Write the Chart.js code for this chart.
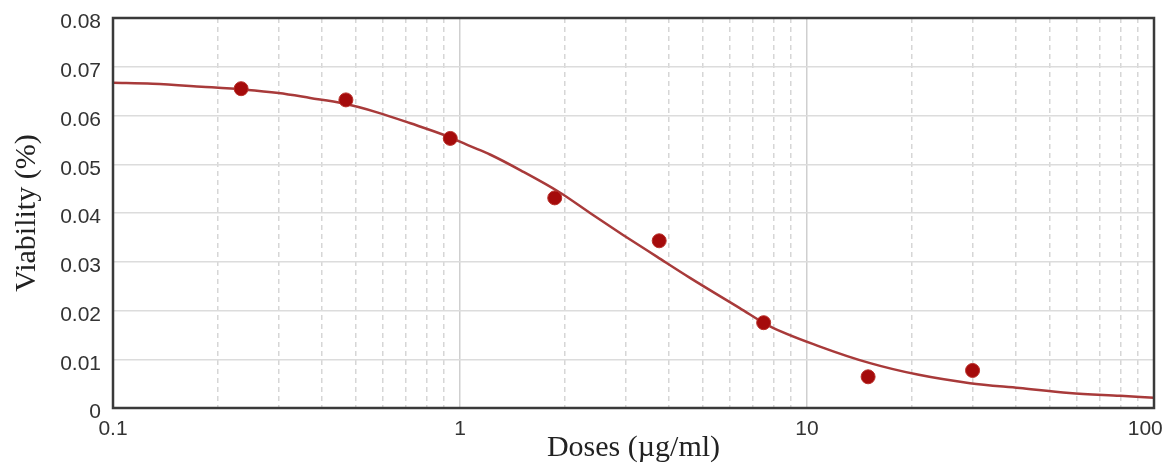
<!DOCTYPE html>
<html>
<head>
<meta charset="utf-8">
<script src="https://cdn.jsdelivr.net/npm/chart.js@4"></script>
<style>
    html, body { margin: 0; padding: 0; background: #fff; }
    #wrap { width: 1168px; height: 463px; }
</style>
</head>
<body>
<div id="wrap"><canvas id="dosis"></canvas></div>
<script>
// measured viability at each dose (µg/ml)
const doses = [0.234, 0.469, 0.9375, 1.875, 3.75, 7.5, 15, 30];
const viability = [0.0655, 0.0632, 0.0553, 0.0431, 0.0343, 0.0175, 0.0064, 0.0077];

// fitted dose-response curve, sampled along the dose axis
const fitDoses = [0.1, 0.13, 0.18, 0.24, 0.3, 0.37, 0.46, 0.58, 0.72, 0.9, 1.07, 1.22, 1.5, 1.94,
    2.37, 2.95, 3.7, 4.6, 6.4, 7.8, 10.9, 15.2, 21, 29.5, 41, 57, 80, 100];
const fitViability = [0.0667, 0.0665, 0.0659, 0.0653, 0.0646, 0.0636, 0.0625, 0.0606, 0.0584, 0.0560,
    0.0537, 0.0520, 0.0487, 0.0442, 0.0400, 0.0355, 0.0310, 0.0267, 0.0205, 0.0168, 0.0126, 0.0092,
    0.0068, 0.0051, 0.0041, 0.0031, 0.0025, 0.0021];

// log axis grid: decades get solid lines + labels, the rest dashed
const decades = [0.1, 1, 10, 100];
const minorSteps = [2, 3, 4, 5, 6, 7, 8, 9];
const yTicks = [0, 0.01, 0.02, 0.03, 0.04, 0.05, 0.06, 0.07, 0.08];

const xGrid = [];
decades.forEach(function (d, i) {
    xGrid.push(d);
    if (i < decades.length - 1) minorSteps.forEach(function (m) { xGrid.push(+(d * m).toPrecision(3)); });
});

const isDecade = (v) => decades.indexOf(v) !== -1;

const tickFont = { family: "'Liberation Sans', Arial, sans-serif", size: 21 };
const titleFont = { family: "'Liberation Serif', 'Times New Roman', serif", size: 30, lineHeight: 1 };

// dark box round the plot area
const frame = {
    id: "frame",
    afterDatasetsDraw(chart) {
        const a = chart.chartArea;
        const ctx = chart.ctx;
        ctx.save();
        ctx.strokeStyle = "#3a3a3a";
        ctx.lineWidth = 2.5;
        ctx.strokeRect(a.left, a.top, a.right - a.left, a.bottom - a.top);
        ctx.restore();
    },
};

new Chart(document.getElementById("dosis"), {
    type: "scatter",
    data: {
        datasets: [
            {
                label: "Datos",
                data: doses.map((d, i) => ({ x: d, y: viability[i] })),
                backgroundColor: "#a50b0b",
                borderColor: "#b8302a",
                borderWidth: 1,
                pointRadius: 7,
                order: 0,
            },
            {
                label: "Ajuste",
                type: "line",
                data: fitDoses.map((d, i) => ({ x: d, y: fitViability[i] })),
                borderColor: "#a83a3a",
                borderWidth: 2.5,
                pointRadius: 0,
                cubicInterpolationMode: "monotone",
                fill: false,
                order: 1,
            },
        ],
    },
    options: {
        responsive: true,
        maintainAspectRatio: false,
        animation: false,
        layout: { padding: { top: 18, right: 14, bottom: 0, left: 0 } },
        scales: {
            x: {
                type: "logarithmic",
                min: 0.1,
                max: 100,
                afterBuildTicks: function (scale) {
                    scale.ticks = xGrid.map((v) => ({ value: v, major: isDecade(v) }));
                },
                afterFit: function (scale) {
                    scale.height = 55;
                    scale.paddingLeft = 0;
                    scale.paddingRight = 0;
                },
                grid: {
                    drawTicks: false,
                    color: (ctx) => (ctx.tick && isDecade(ctx.tick.value) ? "#cfcfcf" : "#d6d6d6"),
                    lineWidth: 1.5,
                },
                border: {
                    display: false,
                    dash: (ctx) => (ctx.tick && !isDecade(ctx.tick.value) ? [5, 4] : []),
                },
                ticks: {
                    autoSkip: false,
                    maxRotation: 0,
                    padding: 9,
                    font: tickFont,
                    color: "#333",
                    callback: function (value) {
                        if (!isDecade(value)) return "";
                        // last label is pulled in so it stays inside the canvas
                        return value === 100 ? "100   " : String(value);
                    },
                },
                title: {
                    display: true,
                    text: "Doses (µg/ml)",
                    font: titleFont,
                    color: "#222",
                    padding: { top: 0, bottom: 0 },
                },
            },
            y: {
                min: 0,
                max: 0.08,
                afterBuildTicks: function (scale) {
                    scale.ticks = yTicks.map((v) => ({ value: v }));
                },
                afterFit: function (scale) {
                    scale.width = 113;
                    scale.paddingTop = 0;
                    scale.paddingBottom = 0;
                },
                grid: { drawTicks: false, color: "#dcdcdc", lineWidth: 1.5 },
                border: { display: false },
                ticks: {
                    padding: 12,
                    labelOffset: 4.5,
                    font: tickFont,
                    color: "#333",
                    callback: (value) => String(value),
                },
                title: {
                    display: true,
                    text: "Viability (%)",
                    font: titleFont,
                    color: "#222",
                    padding: { top: 12, bottom: 0 },
                },
            },
        },
        plugins: {
            legend: { display: false },
            tooltip: { enabled: false },
        },
    },
    plugins: [frame],
});
</script>
</body>
</html>
